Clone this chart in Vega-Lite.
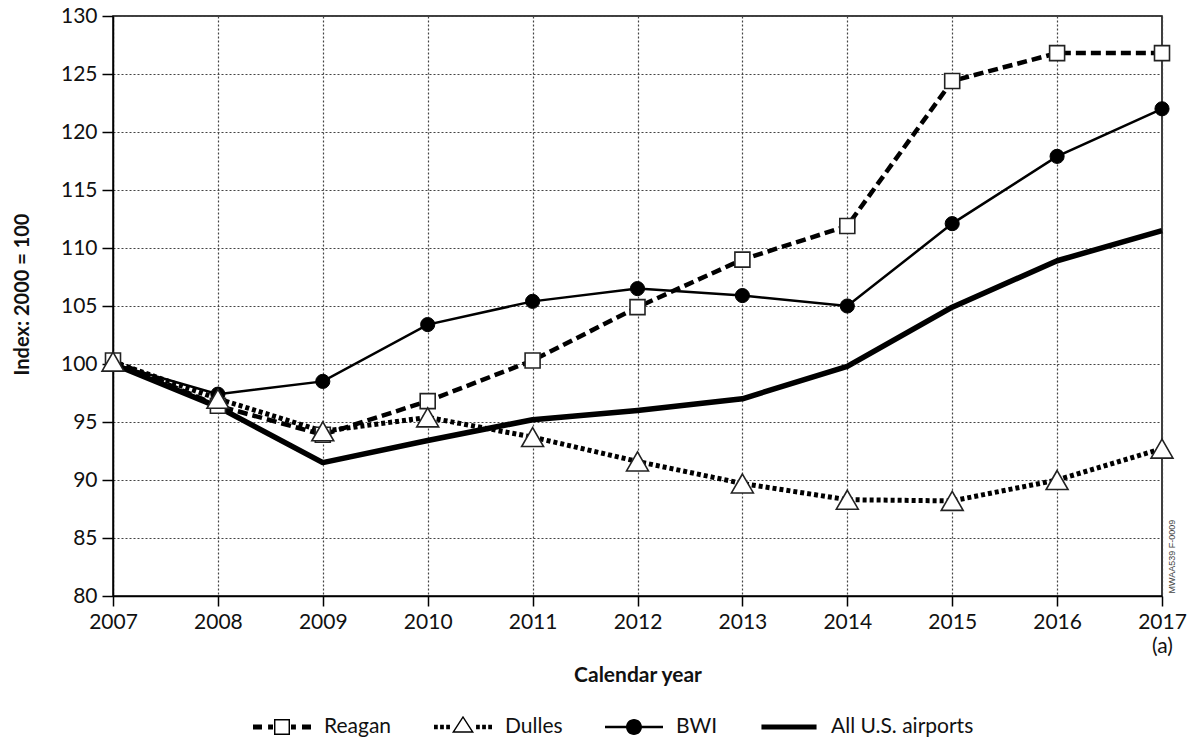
{
  "$schema": "https://vega.github.io/schema/vega-lite/v6.json",
  "width": 1049,
  "height": 580,
  "autosize": {"type": "none"},
  "padding": {"left": 113, "top": 16, "right": 26, "bottom": 144},
  "background": "white",
  "config": {
    "font": "Lato",
    "view": {"stroke": "black", "strokeWidth": 1.5},
    "axis": {
      "domainColor": "black",
      "domainWidth": 1.5,
      "tickColor": "black",
      "tickWidth": 1.5,
      "labelColor": "#111",
      "titleColor": "#111",
      "gridColor": "#444",
      "gridDash": [2, 2],
      "gridWidth": 1.2,
      "gridOpacity": 1
    }
  },
  "datasets": {
    "series": [
      {"year": 2007, "series": "Reagan", "value": 100.3},
      {"year": 2008, "series": "Reagan", "value": 96.4},
      {"year": 2009, "series": "Reagan", "value": 93.9},
      {"year": 2010, "series": "Reagan", "value": 96.8},
      {"year": 2011, "series": "Reagan", "value": 100.3},
      {"year": 2012, "series": "Reagan", "value": 104.9},
      {"year": 2013, "series": "Reagan", "value": 109.0},
      {"year": 2014, "series": "Reagan", "value": 111.9},
      {"year": 2015, "series": "Reagan", "value": 124.4},
      {"year": 2016, "series": "Reagan", "value": 126.8},
      {"year": 2017, "series": "Reagan", "value": 126.8},
      {"year": 2007, "series": "Dulles", "value": 100.2},
      {"year": 2008, "series": "Dulles", "value": 97.0},
      {"year": 2009, "series": "Dulles", "value": 94.2},
      {"year": 2010, "series": "Dulles", "value": 95.4},
      {"year": 2011, "series": "Dulles", "value": 93.7},
      {"year": 2012, "series": "Dulles", "value": 91.6},
      {"year": 2013, "series": "Dulles", "value": 89.7},
      {"year": 2014, "series": "Dulles", "value": 88.3},
      {"year": 2015, "series": "Dulles", "value": 88.2},
      {"year": 2016, "series": "Dulles", "value": 90.0},
      {"year": 2017, "series": "Dulles", "value": 92.7},
      {"year": 2007, "series": "BWI", "value": 100.0},
      {"year": 2008, "series": "BWI", "value": 97.4},
      {"year": 2009, "series": "BWI", "value": 98.5},
      {"year": 2010, "series": "BWI", "value": 103.4},
      {"year": 2011, "series": "BWI", "value": 105.4},
      {"year": 2012, "series": "BWI", "value": 106.5},
      {"year": 2013, "series": "BWI", "value": 105.9},
      {"year": 2014, "series": "BWI", "value": 105.0},
      {"year": 2015, "series": "BWI", "value": 112.1},
      {"year": 2016, "series": "BWI", "value": 117.9},
      {"year": 2017, "series": "BWI", "value": 122.0},
      {"year": 2007, "series": "All U.S. airports", "value": 100.0},
      {"year": 2008, "series": "All U.S. airports", "value": 96.3},
      {"year": 2009, "series": "All U.S. airports", "value": 91.5},
      {"year": 2010, "series": "All U.S. airports", "value": 93.4},
      {"year": 2011, "series": "All U.S. airports", "value": 95.2},
      {"year": 2012, "series": "All U.S. airports", "value": 96.0},
      {"year": 2013, "series": "All U.S. airports", "value": 97.0},
      {"year": 2014, "series": "All U.S. airports", "value": 99.8},
      {"year": 2015, "series": "All U.S. airports", "value": 104.9},
      {"year": 2016, "series": "All U.S. airports", "value": 108.9},
      {"year": 2017, "series": "All U.S. airports", "value": 111.5}
    ],
    "note": [
      {"year": 2017.1, "value": 83.4, "label": "MWAA539 F-0009"}
    ]
  },
  "data": {"name": "series"},
  "encoding": {
    "x": {
      "field": "year",
      "type": "quantitative",
      "scale": {"domain": [2007, 2017], "nice": false, "zero": false},
      "axis": {
        "values": [2007, 2008, 2009, 2010, 2011, 2012, 2013, 2014, 2015, 2016, 2017],
        "format": "d",
        "labelFontSize": 21,
        "labelPadding": 5,
        "tickSize": 10,
        "labelFlush": false,
        "labelOverlap": false,
        "labelLineHeight": 24,
        "labelExpr": "datum.value == 2017 ? ['2017', ' (a)'] : datum.label",
        "title": "Calendar year",
        "titleFontSize": 21,
        "titleFontWeight": "bold",
        "titleY": 79,
        "titleBaseline": "middle"
      }
    },
    "y": {
      "field": "value",
      "type": "quantitative",
      "scale": {"domain": [80, 130], "nice": false, "zero": false},
      "axis": {
        "values": [80, 85, 90, 95, 100, 105, 110, 115, 120, 125, 130],
        "labelFontSize": 21,
        "labelPadding": 5,
        "tickSize": 11,
        "labelFlush": false,
        "labelOverlap": false,
        "title": "Index: 2000 = 100",
        "titleFontSize": 20,
        "titleFontWeight": "bold",
        "titleX": -91,
        "titleY": 278,
        "titleBaseline": "middle"
      }
    }
  },
  "layer": [
    {
      "mark": {"type": "line", "strokeOpacity": 0, "strokeWidth": 1},
      "encoding": {
        "color": {
          "field": "series",
          "type": "nominal",
          "scale": {
            "domain": ["Reagan", "Dulles", "BWI", "All U.S. airports"],
            "range": ["black", "black", "black", "black"]
          },
          "legend": {
            "orient": "none",
            "legendX": 140,
            "legendY": 682,
            "direction": "horizontal",
            "title": null,
            "symbolSize": 3364,
            "symbolStrokeWidth": 0,
            "symbolFillColor": "black",
            "labelFontSize": 21,
            "labelColor": "#111",
            "labelOffset": 13,
            "columnPadding": 42,
            "labelLimit": 400,
            "encode": {
              "symbols": {
                "update": {
                  "shape": {"signal": "datum.value === 'Reagan' ? 'M-1,-0.086H-0.69V0.086H-1Z M-0.48,-0.086H-0.31V0.086H-0.48Z M0.31,-0.086H0.48V0.086H0.31Z M0.69,-0.086H1V0.086H0.69Z M-0.276,-0.276H0.276V0.276H-0.276Z M-0.226,-0.226V0.226H0.226V-0.226Z' : datum.value === 'Dulles' ? 'M-1,-0.08H-0.87V0.08H-1Z M-0.79,-0.08H-0.66V0.08H-0.79Z M-0.58,-0.08H-0.45V0.08H-0.58Z M0.45,-0.08H0.58V0.08H0.45Z M0.66,-0.08H0.79V0.08H0.66Z M0.87,-0.08H1V0.08H0.87Z M0,-0.39L0.38,0.195L-0.38,0.195Z M0,-0.298L-0.288,0.145L0.288,0.145Z' : datum.value === 'BWI' ? 'M-1,-0.04H-0.27V0.04H-1Z M0.27,-0.04H1V0.04H0.27Z M0.276,0A0.276,0.276 0 1,1 -0.276,0A0.276,0.276 0 1,1 0.276,0Z' : 'M-0.95,-0.09H0.95V0.09H-0.95Z'"},
                  "fill": {"value": "black"},
                  "fillOpacity": {"value": 1},
                  "opacity": {"value": 1},
                  "strokeOpacity": {"value": 0},
                  "strokeWidth": {"value": 0},
                  "size": {"value": 3364}
                }
              }
            }
          }
        }
      }
    },
    {
      "transform": [{"filter": "datum.series === 'All U.S. airports'"}],
      "mark": {"type": "line", "color": "black", "strokeWidth": 5.5, "strokeJoin": "round"}
    },
    {
      "transform": [{"filter": "datum.series === 'BWI'"}],
      "mark": {"type": "line", "color": "black", "strokeWidth": 2.5}
    },
    {
      "transform": [{"filter": "datum.series === 'Dulles'"}],
      "mark": {"type": "line", "color": "black", "strokeWidth": 5, "strokeDash": [4, 3], "strokeCap": "butt"}
    },
    {
      "transform": [{"filter": "datum.series === 'Reagan'"}],
      "mark": {"type": "line", "color": "black", "strokeWidth": 4.5, "strokeDash": [10, 5], "strokeCap": "butt"}
    },
    {
      "transform": [{"filter": "datum.series === 'BWI'"}],
      "mark": {"type": "point", "shape": "circle", "size": 200, "filled": true, "fill": "black", "stroke": "black", "strokeWidth": 1, "opacity": 1}
    },
    {
      "transform": [{"filter": "datum.series === 'Reagan'"}],
      "mark": {"type": "point", "shape": "square", "size": 225, "filled": true, "fill": "white", "stroke": "#222", "strokeWidth": 1.6, "opacity": 1}
    },
    {
      "transform": [{"filter": "datum.series === 'Dulles'"}],
      "mark": {"type": "point", "shape": "triangle-up", "size": 480, "filled": true, "fill": "white", "stroke": "#222", "strokeWidth": 1.6, "opacity": 1}
    },
    {
      "data": {"name": "note"},
      "mark": {"type": "text", "angle": 270, "align": "center", "baseline": "middle", "fontSize": 9, "font": "Liberation Sans", "color": "#444"},
      "encoding": {
        "text": {"field": "label"}
      }
    }
  ]
}
